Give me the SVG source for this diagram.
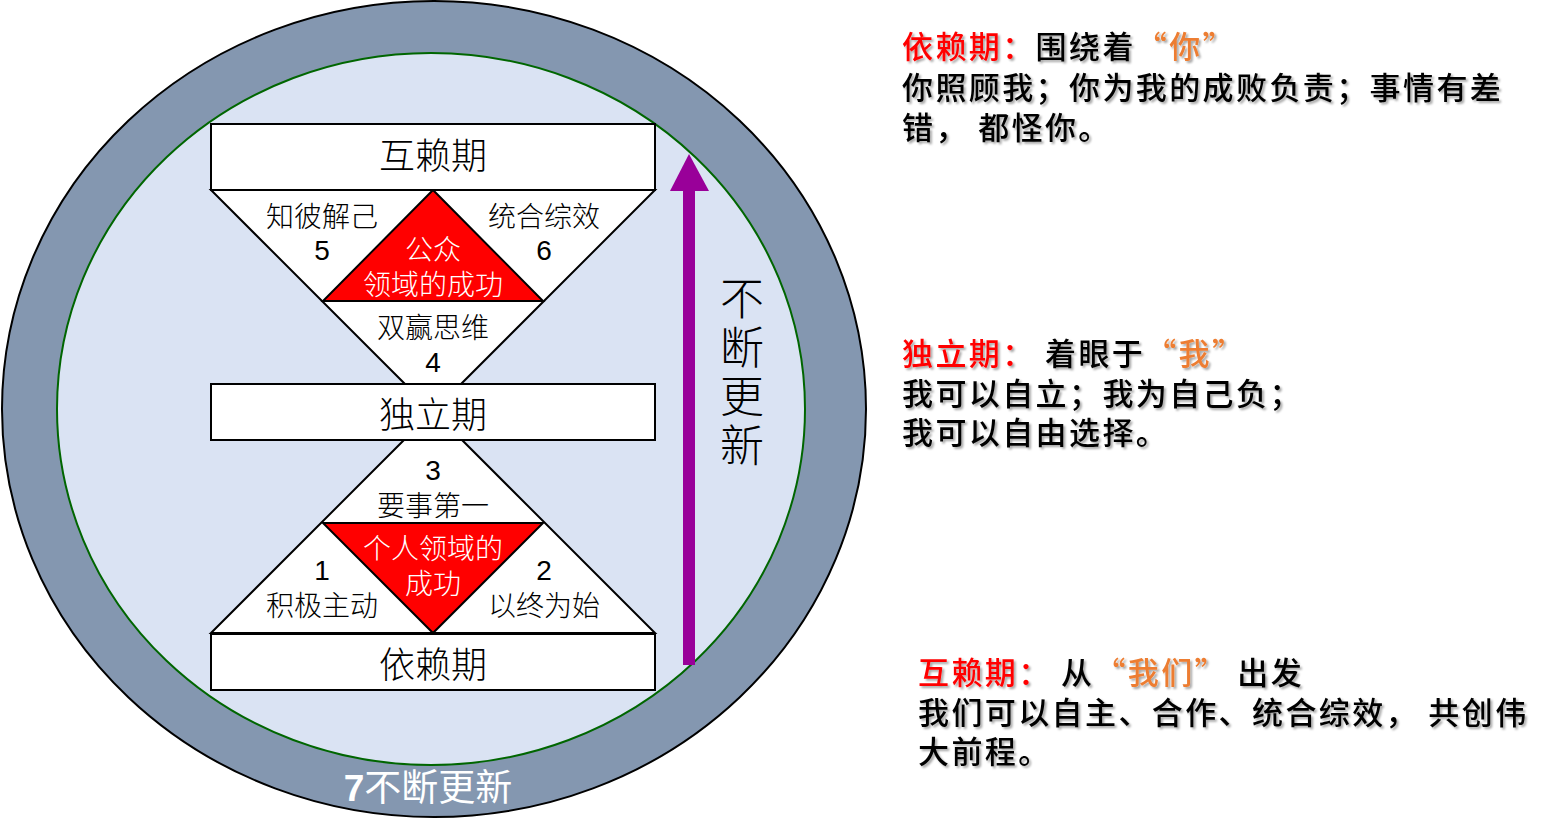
<svg xmlns="http://www.w3.org/2000/svg" width="1564" height="833" viewBox="0 0 1564 833">
<style>
.box{fill:#fff;stroke:#000;stroke-width:2}
.tri{fill:#fff;stroke:#000;stroke-width:2}
.red{fill:#ff0000;stroke:#000;stroke-width:2}
.cn{font-family:"Noto Sans CJK SC","Noto Sans CJK JP",sans-serif;font-weight:300;text-anchor:middle;fill:#000}
.num{font-family:"Liberation Sans",Arial,sans-serif;font-size:28px;font-weight:normal}
.big{font-size:36px}
.mid{font-size:28px}
.wt{fill:#fff}
.side{font-family:"Noto Sans CJK SC","Noto Sans CJK JP",sans-serif;font-size:31px;font-weight:500;fill:#000;letter-spacing:2.4px}
.rd{fill:#ff0000}
.or{fill:#ed7d31}
</style>
<defs>
<filter id="sh" x="-5%" y="-10%" width="110%" height="120%">
<feDropShadow dx="2" dy="2" stdDeviation="1.2" flood-color="#000" flood-opacity="0.35"/>
</filter>
</defs>
<rect width="1564" height="833" fill="#fff"/>
<g id="ring">
<ellipse cx="434" cy="409" rx="432" ry="408" fill="#8497b0" stroke="#000" stroke-width="2"/>
<ellipse cx="431" cy="409" rx="374" ry="356" fill="#dae3f3" stroke="#006600" stroke-width="2"/>
</g>
<g id="public-triangle">
<polygon class="tri" points="211,190 655,190 433,412"/>
<polygon class="red" points="433,190 323,301 543,301"/>
</g>
<g id="private-triangle">
<polygon class="tri" points="211,633 433,411 655,633"/>
<polygon class="red" points="323,523 543,523 433,633"/>
</g>
<g id="interdependence">
<rect class="box" x="211" y="124" width="444" height="66"/>
<text class="cn big" x="433" y="169">互赖期</text>
</g>
<g id="independence">
<rect class="box" x="211" y="384" width="444" height="56"/>
<text class="cn big" x="433" y="428">独立期</text>
</g>
<g id="dependence">
<rect class="box" x="211" y="634" width="444" height="56"/>
<text class="cn big" x="433" y="678">依赖期</text>
</g>
<g id="habit5">
<text class="cn mid" x="322" y="227">知彼解己<tspan class="num" x="322" y="260">5</tspan></text>
</g>
<g id="habit6">
<text class="cn mid" x="544" y="227">统合综效<tspan class="num" x="544" y="260">6</tspan></text>
</g>
<g id="public-victory">
<text class="cn mid wt" x="433" y="260">公众<tspan x="433" y="295">领域的成功</tspan></text>
</g>
<g id="habit4">
<text class="cn mid" x="433" y="338">双赢思维<tspan class="num" x="433" y="372">4</tspan></text>
</g>
<g id="habit3">
<text class="cn mid" x="433" y="480"><tspan class="num">3</tspan><tspan x="433" y="516">要事第一</tspan></text>
</g>
<g id="private-victory">
<text class="cn mid wt" x="433" y="559">个人领域的<tspan x="433" y="594">成功</tspan></text>
</g>
<g id="habit1">
<text class="cn mid" x="322" y="580"><tspan class="num">1</tspan><tspan x="322" y="616">积极主动</tspan></text>
</g>
<g id="habit2">
<text class="cn mid" x="544" y="580"><tspan class="num">2</tspan><tspan x="544" y="616">以终为始</tspan></text>
</g>
<g id="connectors">
<rect x="683" y="190" width="12" height="475" fill="#990099"/>
<polygon points="670,191 709,191 689,154" fill="#990099"/>
</g>
<g id="renewal-vertical">
<text x="742" y="276" writing-mode="vertical-rl" style="font-family:'Noto Sans CJK SC','Noto Sans CJK JP',sans-serif;font-weight:300;font-size:44px;letter-spacing:5px;fill:#000">不断更新</text>
</g>
<g id="habit7">
<text x="428" y="801" style="font-family:'Noto Sans CJK SC',sans-serif;font-size:37px;fill:#fff;text-anchor:middle"><tspan style="font-family:'Liberation Sans',Arial,sans-serif;font-weight:bold">7</tspan>不断更新</text>
</g>
<g id="note-dependence" filter="url(#sh)">
<text class="side" x="902" y="58"><tspan class="rd">依赖期：</tspan>围绕着<tspan class="or">“你”</tspan><tspan x="902" y="99">你照顾我；你为我的成败负责；事情有差</tspan><tspan x="902" y="139">错， 都怪你。</tspan></text>
</g>
<g id="note-independence" filter="url(#sh)">
<text class="side" x="902" y="365"><tspan class="rd">独立期：</tspan> 着眼于<tspan class="or">“我”</tspan><tspan x="902" y="405">我可以自立；我为自己负；</tspan><tspan x="902" y="444">我可以自由选择。</tspan></text>
</g>
<g id="note-interdependence" filter="url(#sh)">
<text class="side" x="918" y="684"><tspan class="rd">互赖期：</tspan> 从<tspan class="or">“我们”</tspan> 出发<tspan x="918" y="724">我们可以自主、合作、统合综效， 共创伟</tspan><tspan x="918" y="763">大前程。</tspan></text>
</g>
</svg>
